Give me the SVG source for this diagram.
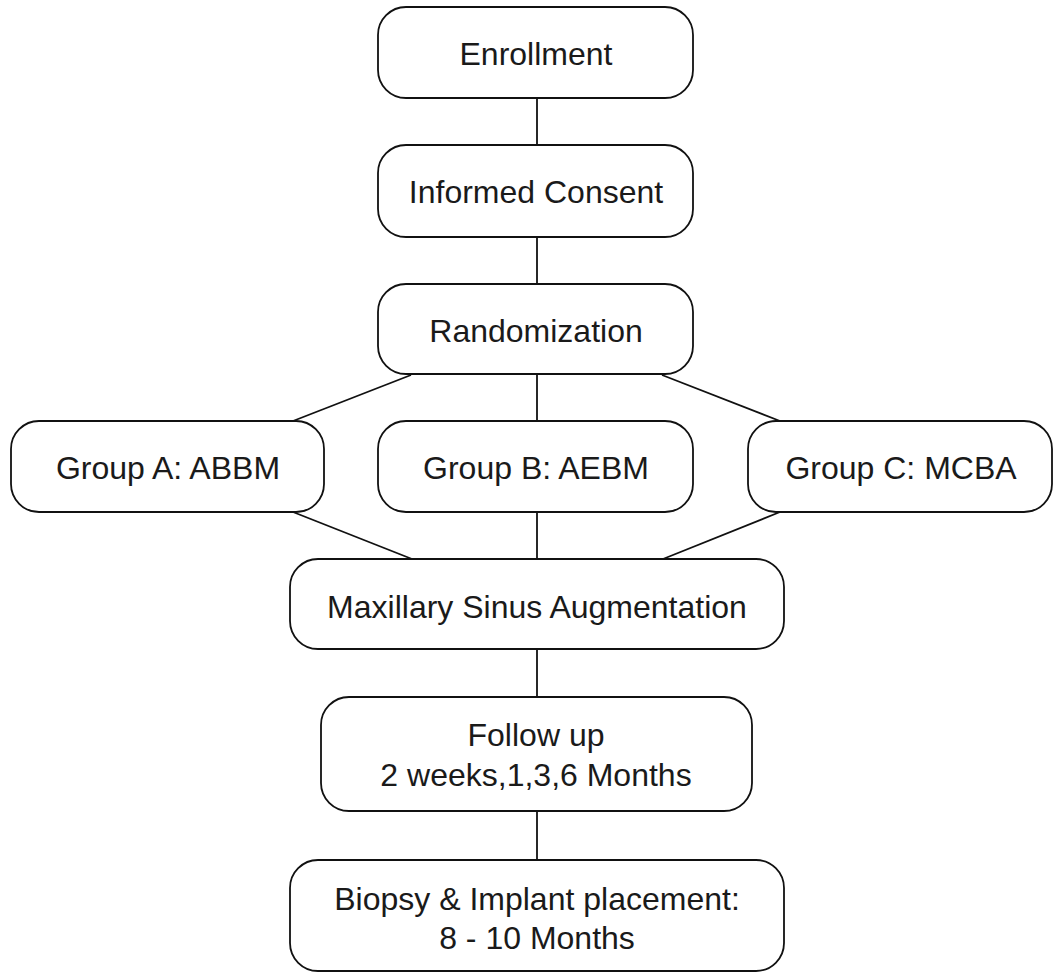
<svg xmlns="http://www.w3.org/2000/svg" width="1054" height="974" viewBox="0 0 1054 974">
<style>
.box{fill:#fff;stroke:#111;stroke-width:1.8}
.t{font-family:"Liberation Sans",Arial,sans-serif;font-size:32px;fill:#1a1a1a;text-anchor:middle}
.c{stroke:#111;stroke-width:1.8;fill:none}
</style>
<rect width="1054" height="974" fill="#fff"/>
<g id="connectors">
<line class="c" x1="537" y1="98" x2="537" y2="145"/>
<line class="c" x1="537" y1="237" x2="537" y2="284"/>
<line class="c" x1="537" y1="374" x2="537" y2="421"/>
<line class="c" x1="411" y1="375" x2="293" y2="421"/>
<line class="c" x1="662" y1="375" x2="780" y2="421"/>
<line class="c" x1="293" y1="512" x2="412" y2="559"/>
<line class="c" x1="537" y1="512" x2="537" y2="559"/>
<line class="c" x1="780" y1="512" x2="663" y2="559"/>
<line class="c" x1="537" y1="649" x2="537" y2="697"/>
<line class="c" x1="537" y1="811" x2="537" y2="860"/>
</g>
<g id="enrollment"><rect class="box" x="378" y="7" width="315" height="91" rx="28"/><text class="t" x="536" y="65">Enrollment</text></g>
<g id="consent"><rect class="box" x="378" y="145" width="315" height="92" rx="28"/><text class="t" x="536" y="203">Informed Consent</text></g>
<g id="randomization"><rect class="box" x="378" y="284" width="315" height="90" rx="28"/><text class="t" x="536" y="342">Randomization</text></g>
<g id="groupA"><rect class="box" x="11" y="421" width="313" height="91" rx="28"/><text class="t" x="168" y="479">Group A: ABBM</text></g>
<g id="groupB"><rect class="box" x="378" y="421" width="315" height="91" rx="28"/><text class="t" x="536" y="479">Group B: AEBM</text></g>
<g id="groupC"><rect class="box" x="748" y="421" width="304" height="91" rx="28"/><text class="t" x="901" y="479">Group C: MCBA</text></g>
<g id="augmentation"><rect class="box" x="290" y="559" width="494" height="90" rx="28"/><text class="t" x="537" y="618">Maxillary Sinus Augmentation</text></g>
<g id="followup"><rect class="box" x="321" y="697" width="431" height="114" rx="28"/><text class="t" x="536" y="746">Follow up</text><text class="t" x="536" y="786">2 weeks,1,3,6 Months</text></g>
<g id="biopsy"><rect class="box" x="290" y="860" width="494" height="111" rx="28"/><text class="t" x="537" y="910">Biopsy &amp; Implant placement:</text><text class="t" x="537" y="949">8 - 10 Months</text></g>
</svg>
